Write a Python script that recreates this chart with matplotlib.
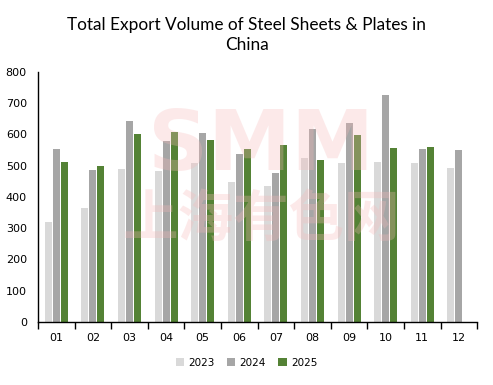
import numpy as np
import matplotlib.pyplot as plt

months = ["01", "02", "03", "04", "05", "06", "07", "08", "09", "10", "11", "12"]
vol_2023 = [320, 365, 490, 483, 509, 448, 435, 525, 509, 512, 509, 493]
vol_2024 = [554, 487, 644, 580, 605, 538, 477, 618, 637, 727, 554, 551]
vol_2025 = [512, 500, 602, 609, 583, 554, 567, 519, 599, 557, 560]

years = ["2023", "2024", "2025"]
colors = ["#d9d9d9", "#a6a6a6", "#548235"]

fig = plt.figure(figsize=(4.93, 3.85), dpi=100)
ax = fig.add_axes([0.077, 0.164, 0.891, 0.649])

# watermark
fig.text(0.53, 0.62, "SMM", color="#f7b9b9", alpha=0.3, fontsize=60,
         fontweight="bold", ha="center", va="center", family="DejaVu Sans")
fig.text(0.53, 0.43, "上海有色网", color="#f7b9b9", alpha=0.3, fontsize=40,
         fontweight="bold", ha="center", va="center",
         family=["Noto Sans CJK SC", "DejaVu Sans"])

x = np.arange(len(months))
w = 0.19
step = 0.22
for i, (vals, c, lab) in enumerate(zip([vol_2023, vol_2024, vol_2025], colors, years)):
    ax.bar(x[:len(vals)] + (i - 1) * step, vals, width=w, color=c, label=lab, zorder=2)

ax.set_xlim(-0.5, 11.5)
ax.set_ylim(0, 800)
ax.set_yticks(range(0, 801, 100))
ax.set_xticks(x)
ax.set_xticklabels(months)
ax.set_xticks(np.arange(-0.5, 12, 1), minor=True)
ax.tick_params(axis="x", which="major", length=0, pad=8, labelsize=8)
ax.tick_params(axis="x", which="minor", length=5, width=1, direction="out")
ax.tick_params(axis="y", length=0, labelsize=8, pad=8)
for s in ["top", "right"]:
    ax.spines[s].set_visible(False)
ax.spines["left"].set_linewidth(1)
ax.spines["bottom"].set_linewidth(1)

fig.suptitle("Total Export Volume of Steel Sheets & Plates in\nChina",
             x=0.5, y=0.955, fontsize=12.4, family="Lato", linespacing=1.3)

fig.legend(loc="center", bbox_to_anchor=(0.5, 0.057), ncol=3, frameon=False,
           fontsize=7.5, handlelength=0.8, handleheight=0.8, handletextpad=0.4,
           columnspacing=1.2)

plt.savefig("out.png", dpi=100)
